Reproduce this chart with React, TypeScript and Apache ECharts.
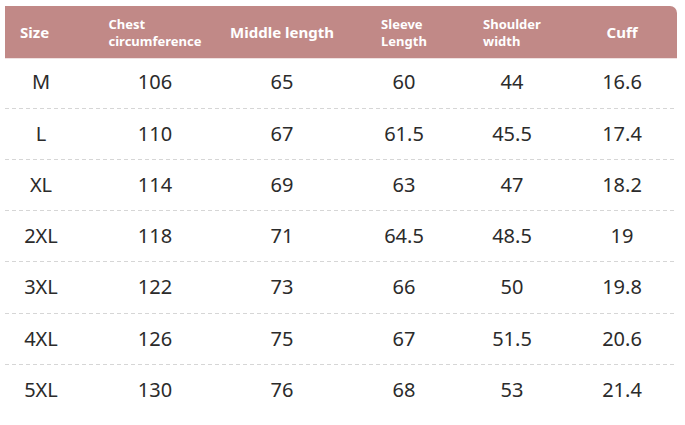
import React, { useEffect, useRef } from 'react';
import * as echarts from 'echarts';

// ---- data ----
const SIZES = ['M', 'L', 'XL', '2XL', '3XL', '4XL', '5XL'];
const HEADERS = ['Size', 'Chest\ncircumference', 'Middle length', 'Sleeve\nLength', 'Shoulder\nwidth', 'Cuff'];
const CHEST = [106, 110, 114, 118, 122, 126, 130];
const MIDDLE_LENGTH = [65, 67, 69, 71, 73, 75, 76];
const SLEEVE_LENGTH = [60, 61.5, 63, 64.5, 66, 67, 68];
const SHOULDER_WIDTH = [44, 45.5, 47, 48.5, 50, 51.5, 53];
const CUFF = [16.6, 17.4, 18.2, 19, 19.8, 20.6, 21.4];

const COLUMNS: (string | number)[][] = [SIZES, CHEST, MIDDLE_LENGTH, SLEEVE_LENGTH, SHOULDER_WIDTH, CUFF];

// ---- layout / style ----
const TABLE_WIDTH = 672;
const COL_CENTERS = [36, 150, 277, 399, 507, 617];
const HEADER_BG = '#C18987';
const FONT = '"Noto Sans", "DejaVu Sans", sans-serif';
const SMALL_HEAD = 13;
const SMALL_LINE = 17;

function measure(text: string, font: string): number {
  const ctx = document.createElement('canvas').getContext('2d');
  if (!ctx) return text.length * 7;
  ctx.font = font;
  return ctx.measureText(text).width;
}

export default function App() {
  const ref = useRef<HTMLDivElement>(null);

  useEffect(() => {
    const chart = echarts.init(ref.current!, null, { renderer: 'svg' });

    const cells: { value: number[]; text: string; header: boolean; col: number }[] = [];
    HEADERS.forEach((h, c) => cells.push({ value: [COL_CENTERS[c], 0], text: h, header: true, col: c }));
    SIZES.forEach((_, r) =>
      COLUMNS.forEach((arr, c) =>
        cells.push({ value: [COL_CENTERS[c], r + 1], text: String(arr[r]), header: false, col: c })
      )
    );

    const smallFont = `bold ${SMALL_HEAD}px "Noto Sans"`;

    const renderItem = (params: any, api: any) => {
      const cell = cells[params.dataIndex];
      const row = api.value(1);
      const [cx, cy] = api.coord([api.value(0), row]);
      const bandH = api.size([0, 1])[1];
      const left = api.coord([0, row])[0];
      const right = api.coord([TABLE_WIDTH, row])[0];
      const children: any[] = [];
      if (cell.header) {
        if (cell.col === 0) {
          children.push({
            type: 'rect',
            shape: { x: left, y: cy - bandH / 2 + 1, width: right - left, height: bandH + 1, r: [0, 7, 0, 0] },
            style: { fill: HEADER_BG },
          });
        }
        const lines = cell.text.split('\n');
        if (lines.length > 1) {
          const blockW = Math.max(...lines.map((l) => measure(l, smallFont)));
          const x0 = cx - blockW / 2;
          const y0 = cy + 2 - ((lines.length - 1) * SMALL_LINE) / 2;
          lines.forEach((l, i) => {
            children.push({
              type: 'text',
              style: {
                text: l,
                x: x0,
                y: y0 + i * SMALL_LINE,
                align: 'left',
                verticalAlign: 'middle',
                fontSize: SMALL_HEAD,
                fontWeight: 'bold',
                fill: '#ffffff',
                fontFamily: FONT,
              },
            });
          });
        } else {
          const isFirst = cell.col === 0;
          children.push({
            type: 'text',
            style: {
              text: cell.text,
              x: isFirst ? left + 15 : cx,
              y: cy + 1,
              align: isFirst ? 'left' : 'center',
              verticalAlign: 'middle',
              fontSize: 15,
              fontWeight: 'bold',
              fill: '#ffffff',
              fontFamily: FONT,
            },
          });
        }
      } else {
        if (cell.col === 0 && row < SIZES.length) {
          const yLine = Math.round(cy + bandH / 2) + 0.5;
          children.push({
            type: 'line',
            shape: { x1: left, y1: yLine, x2: right, y2: yLine },
            style: { stroke: '#d6d6d6', lineWidth: 1, lineDash: [4, 3] },
          });
        }
        children.push({
          type: 'text',
          style: {
            text: cell.text,
            x: cx,
            y: cy,
            align: 'center',
            verticalAlign: 'middle',
            fontSize: 20,
            fill: '#2b2b2b',
            fontFamily: FONT,
          },
        });
      }
      return { type: 'group', children };
    };

    chart.setOption({
      animation: false,
      backgroundColor: '#ffffff',
      grid: { left: 5, right: 8, top: 5, bottom: 10 },
      xAxis: { type: 'value', min: 0, max: TABLE_WIDTH, show: false },
      yAxis: { type: 'category', inverse: true, data: ['header', ...SIZES], show: false },
      series: [
        {
          type: 'custom',
          renderItem,
          data: cells.map((c) => c.value),
          silent: true,
        },
      ],
    });

    return () => chart.dispose();
  }, []);

  return (
    <div
      ref={ref}
      style={{ position: 'fixed', left: 0, top: 0, width: 685, height: 425, background: '#fff' }}
    />
  );
}
